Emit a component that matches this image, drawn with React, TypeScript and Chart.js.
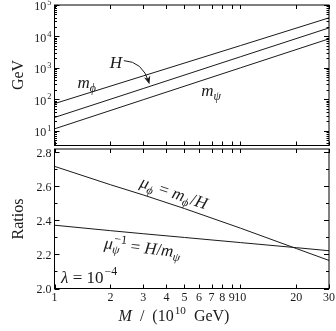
import React, { useEffect, useRef } from 'react';
import { Chart, registerables } from 'chart.js';
Chart.register(...registerables);

// ---- data ----
const M_TOP = [1, 3, 10, 30];
const M_PHI = [73, 555, 5100, 39000];
const H_VAL = [26.5, 220, 2250, 18700];
const M_PSI = [11.5, 97, 1000, 8400];

const M_BOT = [1, 2, 3, 5, 10, 20, 30];
const MU_PHI = [2.718, 2.61, 2.55, 2.47, 2.355, 2.235, 2.165];
const MU_PSI_INV = [2.372, 2.34, 2.322, 2.3, 2.27, 2.24, 2.222];

const X_TICKS = [1, 2, 3, 4, 5, 6, 7, 8, 9, 10, 20, 30];
const X_TICK_LABELS = ['1', '2', '3', '4', '5', '6', '7', '8', '9', '10', '20', '30'];
const Y_TOP_EXPONENTS = [1, 2, 3, 4, 5];
const Y_BOT_TICKS = [2.0, 2.2, 2.4, 2.6, 2.8];
const Y_BOT_LABELS = ['2.0', '2.2', '2.4', '2.6', '2.8'];
const Y_BOT_MINOR = [2.1, 2.3, 2.5, 2.7];

const SERIF = '"Liberation Serif", "DejaVu Serif", serif';
const INK = '#1a1a1a';

type Seg = { t: string; it?: boolean; sub?: string; sup?: string; subIt?: boolean };

function font(size: number, it?: boolean) {
  return `${it ? 'italic ' : ''}${size}px ${SERIF}`;
}

function segWidth(ctx: CanvasRenderingContext2D, s: Seg, size: number) {
  ctx.font = font(size, s.it);
  let w = ctx.measureText(s.t).width;
  const ss = size * 0.7;
  let extra = 0;
  if (s.sub) {
    ctx.font = font(ss, s.subIt !== false);
    extra = Math.max(extra, ctx.measureText(s.sub).width);
  }
  if (s.sup) {
    ctx.font = font(ss, false);
    extra = Math.max(extra, ctx.measureText(s.sup).width);
  }
  return w + extra + (extra ? 1 : 0);
}

function drawRich(
  ctx: CanvasRenderingContext2D,
  segs: Seg[],
  x: number,
  y: number,
  size: number,
  align: 'left' | 'center' | 'right' = 'center',
  angle = 0
) {
  ctx.save();
  ctx.translate(x, y);
  ctx.rotate((angle * Math.PI) / 180);
  ctx.fillStyle = INK;
  ctx.textAlign = 'left';
  ctx.textBaseline = 'alphabetic';
  const total = segs.reduce((a, s) => a + segWidth(ctx, s, size), 0);
  let cx = align === 'center' ? -total / 2 : align === 'right' ? -total : 0;
  const base = size * 0.35;
  const ss = size * 0.7;
  for (const s of segs) {
    ctx.font = font(size, s.it);
    ctx.fillText(s.t, cx, base);
    const w = ctx.measureText(s.t).width;
    let extra = 0;
    if (s.sub) {
      ctx.font = font(ss, s.subIt !== false);
      ctx.fillText(s.sub, cx + w + (s.it ? 0 : 0.5), base + size * 0.22);
      extra = Math.max(extra, ctx.measureText(s.sub).width);
    }
    if (s.sup) {
      ctx.font = font(ss, false);
      ctx.fillText(s.sup, cx + w + 1, base - size * 0.42);
      extra = Math.max(extra, ctx.measureText(s.sup).width);
    }
    cx += w + extra + (extra ? 1 : 0);
  }
  ctx.restore();
}

function drawArrow(ctx: CanvasRenderingContext2D, p0: number[], c: number[], p1: number[]) {
  ctx.save();
  ctx.strokeStyle = INK;
  ctx.fillStyle = INK;
  ctx.lineWidth = 1;
  ctx.beginPath();
  ctx.moveTo(p0[0], p0[1]);
  ctx.quadraticCurveTo(c[0], c[1], p1[0], p1[1]);
  ctx.stroke();
  const dx = p1[0] - c[0];
  const dy = p1[1] - c[1];
  const L = Math.hypot(dx, dy);
  const ux = dx / L, uy = dy / L;
  const hl = 8, hw = 3.2;
  const tip = [p1[0] + ux * 2, p1[1] + uy * 2];
  ctx.beginPath();
  ctx.moveTo(tip[0], tip[1]);
  ctx.lineTo(tip[0] - ux * hl - uy * hw, tip[1] - uy * hl + ux * hw);
  ctx.lineTo(tip[0] - ux * hl * 0.7, tip[1] - uy * hl * 0.7);
  ctx.lineTo(tip[0] - ux * hl + uy * hw, tip[1] - uy * hl - ux * hw);
  ctx.closePath();
  ctx.fill();
  ctx.restore();
}

function xTicks(ctx: CanvasRenderingContext2D, chart: any, len: number) {
  const { top, bottom } = chart.chartArea;
  const xs = chart.scales.x;
  ctx.beginPath();
  for (const v of X_TICKS) {
    const px = Math.round(xs.getPixelForValue(v)) + 0.5;
    ctx.moveTo(px, top);
    ctx.lineTo(px, top + len);
    ctx.moveTo(px, bottom);
    ctx.lineTo(px, bottom - len);
  }
  ctx.stroke();
}

function yTick(ctx: CanvasRenderingContext2D, chart: any, py: number, len: number) {
  const { left, right } = chart.chartArea;
  ctx.moveTo(left, py);
  ctx.lineTo(left + len, py);
  ctx.moveTo(right, py);
  ctx.lineTo(right - len, py);
}

const topPlugin = {
  id: 'topDecor',
  afterDraw(chart: any) {
    const ctx: CanvasRenderingContext2D = chart.ctx;
    const { left, right, top, bottom } = chart.chartArea;
    const xs = chart.scales.x;
    const ys = chart.scales.y;
    ctx.save();
    ctx.strokeStyle = '#000';
    ctx.lineWidth = 1;
    ctx.strokeRect(left, top, right - left, bottom - top);
    xTicks(ctx, chart, 4);
    ctx.beginPath();
    for (let e = 0; e <= 5; e++) {
      for (let k = 1; k <= 9; k++) {
        const v = k * Math.pow(10, e);
        if (v < ys.min || v > ys.max) continue;
        const py = Math.round(ys.getPixelForValue(v)) + 0.5;
        yTick(ctx, chart, py, k === 1 ? 5 : 2.5);
      }
    }
    ctx.stroke();
    for (const e of Y_TOP_EXPONENTS) {
      const py = ys.getPixelForValue(Math.pow(10, e));
      drawRich(ctx, [{ t: '10', sup: String(e) }], left - 3, py + 1, 12, 'right');
    }
    // axis title
    drawRich(ctx, [{ t: 'GeV' }], 17, 75, 16, 'center', -90);
    // annotations
    const P = (m: number, v: number) => [xs.getPixelForValue(m), ys.getPixelForValue(v)];
    const a = P(1.5, 360);
    drawRich(ctx, [{ t: 'm', it: true, sub: 'ϕ' }], a[0], a[1], 17, 'center');
    const h = P(2.14, 1560);
    drawRich(ctx, [{ t: 'H', it: true }], h[0], h[1], 17, 'center');
    drawArrow(ctx, P(2.36, 1700), P(2.98, 1600), P(3.22, 350));
    const b = P(7.0, 200);
    drawRich(ctx, [{ t: 'm', it: true, sub: 'ψ' }], b[0], b[1], 17, 'center');
    ctx.restore();
  },
};

const botPlugin = {
  id: 'botDecor',
  afterDraw(chart: any) {
    const ctx: CanvasRenderingContext2D = chart.ctx;
    const { left, right, top, bottom } = chart.chartArea;
    const xs = chart.scales.x;
    const ys = chart.scales.y;
    ctx.save();
    ctx.strokeStyle = '#000';
    ctx.lineWidth = 1;
    ctx.strokeRect(left, top, right - left, bottom - top);
    xTicks(ctx, chart, 4);
    ctx.beginPath();
    for (const v of Y_BOT_TICKS) yTick(ctx, chart, Math.round(ys.getPixelForValue(v)) + 0.5, 5);
    for (const v of Y_BOT_MINOR) yTick(ctx, chart, Math.round(ys.getPixelForValue(v)) + 0.5, 3);
    ctx.stroke();
    Y_BOT_TICKS.forEach((v, i) => {
      drawRich(ctx, [{ t: Y_BOT_LABELS[i] }], left - 3, ys.getPixelForValue(v), 12, 'right');
    });
    X_TICKS.forEach((v, i) => {
      drawRich(ctx, [{ t: X_TICK_LABELS[i] }], xs.getPixelForValue(v), bottom + 8, 12, 'center');
    });
    drawRich(ctx, [{ t: 'Ratios' }], 17, 219, 16, 'center', -90);
    drawRich(
      ctx,
      [{ t: 'M', it: true }, { t: '  /  (10', sup: '10' }, { t: '  GeV)' }],
      174,
      315,
      16,
      'center'
    );
    const P = (m: number, v: number) => [xs.getPixelForValue(m), ys.getPixelForValue(v)];
    const a = P(4.4, 2.565);
    drawRich(
      ctx,
      [
        { t: 'μ', it: true, sub: 'ϕ' },
        { t: ' = ' },
        { t: 'm', it: true, sub: 'ϕ' },
        { t: '/' },
        { t: 'H', it: true },
      ],
      a[0],
      a[1],
      17,
      'center',
      19
    );
    const b = P(3.0, 2.243);
    drawRich(
      ctx,
      [
        { t: 'μ', it: true, sub: 'ψ', sup: '−1' },
        { t: ' = ' },
        { t: 'H', it: true },
        { t: '/' },
        { t: 'm', it: true, sub: 'ψ' },
      ],
      b[0],
      b[1],
      17,
      'center',
      7
    );
    const c = P(1.085, 2.07);
    drawRich(ctx, [{ t: 'λ', it: true }, { t: ' = 10', sup: '−4' }], c[0], c[1], 17, 'left');
    ctx.restore();
  },
};

function lineDs(xs: number[], ys: number[]) {
  return {
    data: xs.map((x, i) => ({ x, y: ys[i] })),
    showLine: true,
    borderColor: INK,
    borderWidth: 1,
    pointRadius: 0,
    fill: false,
    tension: 0,
  };
}

const W = 336;
const Hh = 331;

export default function App() {
  const topRef = useRef<HTMLCanvasElement>(null);
  const botRef = useRef<HTMLCanvasElement>(null);

  useEffect(() => {
    document.body.style.margin = '0';
    const common: any = {
      animation: false,
      responsive: false,
      devicePixelRatio: 1,
      events: [],
      plugins: { legend: { display: false }, tooltip: { enabled: false } },
    };
    const c1 = new Chart(topRef.current!, {
      type: 'scatter',
      data: {
        datasets: [lineDs(M_TOP, M_PHI), lineDs(M_TOP, H_VAL), lineDs(M_TOP, M_PSI)] as any,
      },
      options: {
        ...common,
        layout: { padding: { left: 54.5, right: 7, top: 5, bottom: Hh - 145.5 } },
        scales: {
          x: { type: 'logarithmic', min: 1, max: 30, display: false },
          y: { type: 'logarithmic', min: 3.4, max: 1e5, display: false },
        },
      },
      plugins: [topPlugin],
    });
    const c2 = new Chart(botRef.current!, {
      type: 'scatter',
      data: {
        datasets: [lineDs(M_BOT, MU_PHI), lineDs(M_BOT, MU_PSI_INV)] as any,
      },
      options: {
        ...common,
        layout: { padding: { left: 54.5, right: 7, top: 149, bottom: Hh - 288.5 } },
        scales: {
          x: { type: 'logarithmic', min: 1, max: 30, display: false },
          y: { type: 'linear', min: 2.0, max: 2.82, display: false },
        },
      },
      plugins: [botPlugin],
    });
    return () => {
      c1.destroy();
      c2.destroy();
    };
  }, []);

  return (
    <div style={{ position: 'relative', width: W, height: Hh, background: '#fff' }}>
      <canvas ref={topRef} width={W} height={Hh} style={{ position: 'absolute', left: 0, top: 0 }} />
      <canvas ref={botRef} width={W} height={Hh} style={{ position: 'absolute', left: 0, top: 0 }} />
    </div>
  );
}
